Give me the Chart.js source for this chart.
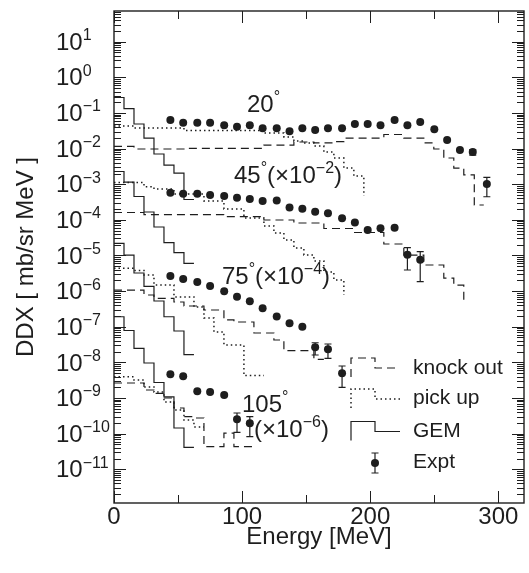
<!DOCTYPE html>
<html>
<head>
<meta charset="utf-8">
<title>DDX spectra</title>
<script src="https://cdn.jsdelivr.net/npm/chart.js@4.4.1/dist/chart.umd.min.js"></script>
<style>
  html, body { margin: 0; padding: 0; background: #fff; }
  #wrap { width: 529px; height: 573px; }
</style>
</head>
<body>
<div id="wrap"><canvas id="ddx" width="529" height="573"></canvas></div>
<script>
const FONT = "'Liberation Sans', Arial, Helvetica, sans-serif";
const INK = '#1e1e1e';

// measured points: energies (MeV) and DDX for each angle (scaled as in the plot)
const expE = [44, 54, 65, 75, 86, 96, 106, 116, 127, 137, 147, 157, 167, 178, 188, 198, 208, 219, 229, 239, 250, 260, 270, 280, 291];
const exp20 = [0.0634, 0.0533, 0.0533, 0.0533, 0.0450, 0.0411, 0.0450, 0.0371, 0.0371, 0.0306, 0.0371, 0.0332, 0.0371, 0.0371, 0.0490, 0.0490, 0.0450, 0.0634, 0.0450, 0.0558, 0.0348, 0.0174, 0.00913, 0.00802, 0.00101];
const exp45 = [5.78e-4, 5.42e-4, 5.42e-4, 4.98e-4, 4.67e-4, 4.18e-4, 3.85e-4, 3.38e-4, 3.49e-4, 2.22e-4, 2.06e-4, 1.69e-4, 1.53e-4, 1.11e-4, 8.42e-5, 5.19e-5, 5.79e-5, 6.02e-5, 1.05e-5, 7.61e-6];
const exp75 = [2.66e-6, 2.19e-6, 1.80e-6, 1.39e-6, 9.88e-7, 6.97e-7, 5.18e-7, 3.29e-7, 1.94e-7, 1.25e-7, 1.00e-7, 2.65e-8, 2.33e-8, 4.93e-9];
const exp105 = [4.63e-9, 4.06e-9, 1.54e-9, 1.47e-9, 1.21e-9, 2.54e-10, 1.95e-10];

// error bars: point index, lower, upper
const errIdx20 = [23, 24], errLo20 = [6.6e-3, 4.46e-4], errHi20 = [9.4e-3, 1.56e-3];
const errIdx45 = [18, 19], errLo45 = [3.91e-6, 1.84e-6], errHi45 = [1.67e-5, 1.28e-5];
const errIdx75 = [11, 12, 13], errLo75 = [1.61e-8, 1.30e-8, 2.00e-9], errHi75 = [3.56e-8, 3.28e-8, 7.91e-9];
const errIdx105 = [5, 6], errLo105 = [1.08e-10, 8.20e-11], errHi105 = [3.79e-10, 2.99e-10];

// GEM histograms (bin edges, value from each edge)
const gemE = [0, 7.8, 15.6, 23.4, 31.2, 39, 46.8, 54.6, 62.4];
const gem20 = [0.272, 0.133, 0.0490, 0.0198, 0.00705, 0.00346, 0.00206, 3.73e-4, 3.73e-4];
const gem45 = [2.28e-3, 1.15e-3, 4.52e-4, 1.66e-4, 6.30e-5, 2.31e-5, 1.21e-5, 6.03e-6, 6.03e-6];
const gem75 = [2.20e-5, 1.03e-5, 3.22e-6, 1.35e-6, 5.28e-7, 1.91e-7, 7.59e-8, 1.66e-8, 1.66e-8];
const gem105 = [1.91e-7, 7.84e-8, 2.48e-8, 9.60e-9, 2.72e-9, 1.07e-9, 1.44e-10, 4.13e-11, 4.13e-11];

// knock out histograms
const ko20E = [0, 15.6, 54.6, 117, 140.4, 156, 171.6, 179.4, 210.6, 226.2, 241.8, 249.6, 257.4, 265.2, 273, 281.2, 288.6];
const ko20 = [1.15e-2, 9.74e-3, 1.01e-2, 1.26e-2, 1.53e-2, 1.44e-2, 1.58e-2, 1.98e-2, 2.49e-2, 1.98e-2, 1.44e-2, 9.74e-3, 5.44e-3, 2.85e-3, 1.82e-3, 2.61e-4, 2.61e-4];
const ko45E = [0, 23.4, 85.8, 117, 140.4, 163.8, 187.2, 210.6, 226.2, 241.8, 257.4, 265.2, 273];
const ko45 = [1.61e-4, 1.41e-4, 1.23e-4, 9.90e-5, 8.16e-5, 5.72e-5, 4.42e-5, 2.10e-5, 1.03e-5, 5.40e-6, 2.33e-6, 1.48e-6, 5.63e-7];
const ko75E = [0, 23.4, 31.2, 46.8, 54.6, 70.2, 85.8, 93.6, 109.2, 124.8, 132.6, 156, 163.8];
const ko75 = [1.07e-6, 7.78e-7, 6.28e-7, 4.95e-7, 3.82e-7, 2.95e-7, 1.55e-7, 1.36e-7, 6.67e-8, 4.24e-8, 2.13e-8, 1.22e-8, 1.22e-8];
const ko105E = [0, 23.4, 31.2, 39, 46.8, 54.6, 62.4, 70.2, 85.8, 93.6, 109.2];
const ko105 = [2.64e-9, 1.68e-9, 1.35e-9, 1.00e-9, 5.24e-10, 2.99e-10, 2.75e-10, 4.30e-11, 1.04e-10, 4.30e-11, 4.30e-11];

// pick up histograms
const pu20E = [0, 15.6, 54.6, 117, 132.6, 140.4, 148.2, 156, 163.8, 171.6, 179.4, 187.2, 195];
const pu20 = [4.31e-2, 3.78e-2, 3.22e-2, 2.74e-2, 2.12e-2, 1.63e-2, 1.44e-2, 1.18e-2, 8.02e-3, 5.44e-3, 2.85e-3, 1.70e-3, 4.67e-4];
const pu45E = [0, 23.4, 31.2, 46.8, 70.2, 85.8, 101.4, 117, 124.8, 132.6, 140.4, 148.2, 156, 163.8, 171.6, 179.4];
const pu45 = [1.12e-3, 8.52e-4, 7.34e-4, 5.31e-4, 3.38e-4, 2.02e-4, 1.13e-4, 6.72e-5, 4.27e-5, 2.72e-5, 1.62e-5, 1.03e-5, 7.00e-6, 3.44e-6, 2.05e-6, 7.78e-7];
const pu75E = [0, 15.6, 23.4, 31.2, 46.8, 62.4, 70.2, 78, 85.8, 101.4, 117];
const pu75 = [4.37e-6, 3.79e-6, 2.83e-6, 1.48e-6, 6.83e-7, 3.58e-7, 1.76e-7, 7.12e-8, 3.07e-8, 4.28e-9, 4.28e-9];
const pu105E = [0, 15.6, 23.4, 31.2, 39, 46.8, 54.6, 62.4, 70.2];
const pu105 = [3.96e-9, 3.20e-9, 2.04e-9, 1.47e-9, 7.72e-10, 4.60e-10, 2.41e-10, 1.54e-10, 1.54e-10];

const KO_DASH = [8, 5];
const PU_DASH = [1.5, 3];

function steps(E, V) { return E.map((x, i) => ({ x: x, y: V[i] })); }
function stepSet(label, E, V, dash, width) {
  return {
    label: label, data: steps(E, V), showLine: true, stepped: true, fill: false,
    pointRadius: 0, pointHoverRadius: 0, borderColor: INK, borderWidth: width,
    borderDash: dash
  };
}
function expSet(label, V) {
  return {
    label: label, data: V.map((y, i) => ({ x: expE[i], y: y })), showLine: false,
    pointRadius: 4, pointHoverRadius: 4, pointBackgroundColor: INK,
    pointBorderColor: INK, pointBorderWidth: 0
  };
}

const errGroups = [
  [errIdx20, errLo20, errHi20], [errIdx45, errLo45, errHi45],
  [errIdx75, errLo75, errHi75], [errIdx105, errLo105, errHi105]
];

function seg(ctx, x1, y1, x2, y2) { ctx.moveTo(x1, y1); ctx.lineTo(x2, y2); }

// draws "normal" and superscript pieces one after the other
function drawPieces(ctx, x, y, parts) {
  let cx = x;
  parts.forEach(p => {
    const sup = p[1];
    ctx.font = (sup ? '16px ' : '24px ') + FONT;
    ctx.fillText(p[0], cx, sup ? y - 7.5 : y);
    cx += ctx.measureText(p[0]).width;
  });
}

const decor = {
  id: 'decor',
  afterDatasetsDraw(chart) {
    const { ctx, chartArea: ca } = chart;
    const xs = chart.scales.x, ys = chart.scales.y;
    ctx.save();
    ctx.strokeStyle = INK;
    ctx.fillStyle = INK;

    // error bars
    ctx.lineWidth = 1.2;
    ctx.beginPath();
    errGroups.forEach(g => g[0].forEach((k, j) => {
      const px = xs.getPixelForValue(expE[k]);
      const y1 = ys.getPixelForValue(g[1][j]), y2 = ys.getPixelForValue(g[2][j]);
      seg(ctx, px, y1, px, y2);
      seg(ctx, px - 3.5, y1, px + 3.5, y1);
      seg(ctx, px - 3.5, y2, px + 3.5, y2);
    }));
    ctx.stroke();

    // frame and inward ticks on all sides
    ctx.lineWidth = 1.4;
    ctx.strokeRect(ca.left, ca.top, ca.right - ca.left, ca.bottom - ca.top);
    ctx.lineWidth = 1;
    ctx.beginPath();
    for (let n = -12; n <= 1; n++) {
      for (let m = 1; m <= 9; m++) {
        const v = m * Math.pow(10, n);
        if (v < ys.min || v > ys.max) continue;
        const py = Math.round(ys.getPixelForValue(v)) + 0.5;
        const len = m === 1 ? 12 : 7;
        seg(ctx, ca.left, py, ca.left + len, py);
        seg(ctx, ca.right, py, ca.right - len, py);
      }
    }
    for (let v = 0; v <= 300; v += 50) {
      const px = Math.round(xs.getPixelForValue(v)) + 0.5;
      const len = v % 100 === 0 ? 12 : 8;
      seg(ctx, px, ca.bottom, px, ca.bottom - len);
      seg(ctx, px, ca.top, px, ca.top + len);
    }
    ctx.stroke();

    // y tick labels 10^n
    ctx.textAlign = 'left';
    ctx.textBaseline = 'middle';
    for (let n = -11; n <= 1; n++) {
      const py = ys.getPixelForValue(Math.pow(10, n)) + 1.5;
      const ex = n < 0 ? '\u2212' + (-n) : String(n);
      drawPieces(ctx, 56, py, [['10', false], [ex, true]]);
    }

    // angle annotations
    drawPieces(ctx, 247, 105, [['20', false], ['\u00b0', true]]);
    drawPieces(ctx, 234, 176, [['45', false], ['\u00b0', true], ['(\u00d710', false], ['\u22122', true], [')', false]]);
    drawPieces(ctx, 222, 277, [['75', false], ['\u00b0', true], ['(\u00d710', false], ['\u22124', true], [')', false]]);
    drawPieces(ctx, 242, 405, [['105', false], ['\u00b0', true]]);
    drawPieces(ctx, 254, 430, [['(\u00d710', false], ['\u22126', true], [')', false]]);

    // legend
    const lx = 351;
    const icon = (top, dash, width) => {
      ctx.setLineDash(dash);
      ctx.lineWidth = width;
      ctx.beginPath();
      ctx.moveTo(lx, top + 19);
      ctx.lineTo(lx, top);
      ctx.lineTo(lx + 24, top);
      ctx.lineTo(lx + 24, top + 10);
      ctx.lineTo(lx + 49, top + 10);
      ctx.stroke();
    };
    icon(358, KO_DASH, 1.2);
    icon(389, PU_DASH, 1.5);
    icon(421.5, [], 1.2);
    ctx.setLineDash([]);
    ctx.lineWidth = 1.2;
    ctx.beginPath();
    seg(ctx, lx + 24, 453, lx + 24, 473);
    seg(ctx, lx + 20.5, 453, lx + 27.5, 453);
    seg(ctx, lx + 20.5, 473, lx + 27.5, 473);
    ctx.stroke();
    ctx.beginPath();
    ctx.arc(lx + 24, 463, 4, 0, Math.PI * 2);
    ctx.fill();
    ctx.font = '21px ' + FONT;
    ctx.fillText('knock out', 413, 368);
    ctx.fillText('pick up', 413, 398);
    ctx.fillText('GEM', 413, 431);
    ctx.fillText('Expt', 413, 462);
    ctx.restore();
  }
};

Chart.defaults.font.family = FONT;
Chart.defaults.color = INK;

new Chart(document.getElementById('ddx'), {
  type: 'scatter',
  data: {
    datasets: [
      expSet('Expt 20', exp20), expSet('Expt 45', exp45), expSet('Expt 75', exp75), expSet('Expt 105', exp105),
      stepSet('GEM 20', gemE, gem20, [], 1.2), stepSet('GEM 45', gemE, gem45, [], 1.2),
      stepSet('GEM 75', gemE, gem75, [], 1.2), stepSet('GEM 105', gemE, gem105, [], 1.2),
      stepSet('knock out 20', ko20E, ko20, KO_DASH, 1.2), stepSet('knock out 45', ko45E, ko45, KO_DASH, 1.2),
      stepSet('knock out 75', ko75E, ko75, KO_DASH, 1.2), stepSet('knock out 105', ko105E, ko105, KO_DASH, 1.2),
      stepSet('pick up 20', pu20E, pu20, PU_DASH, 1.5), stepSet('pick up 45', pu45E, pu45, PU_DASH, 1.5),
      stepSet('pick up 75', pu75E, pu75, PU_DASH, 1.5), stepSet('pick up 105', pu105E, pu105, PU_DASH, 1.5)
    ]
  },
  options: {
    responsive: false,
    animation: false,
    events: [],
    layout: { padding: { left: 0, top: 11, right: 5, bottom: 0 } },
    plugins: { legend: { display: false }, tooltip: { enabled: false } },
    scales: {
      x: {
        type: 'linear', min: 0, max: 320,
        ticks: { stepSize: 100, includeBounds: false, maxRotation: 0, padding: 0, font: { size: 24 } },
        grid: { display: false, drawTicks: false },
        border: { display: false },
        title: { display: true, text: 'Energy [MeV]', font: { size: 24 }, padding: { top: 0, bottom: 21 } },
        afterFit(s) { s.height = 70; }
      },
      y: {
        type: 'logarithmic', min: 1.13e-12, max: 72.8,
        ticks: { display: false },
        grid: { display: false, drawTicks: false },
        border: { display: false },
        title: { display: true, text: 'DDX [ mb/sr MeV ]', font: { size: 24 }, padding: { top: 11.5, bottom: 0 } },
        afterFit(s) { s.width = 114; }
      }
    }
  },
  plugins: [decor]
});
</script>
</body>
</html>
